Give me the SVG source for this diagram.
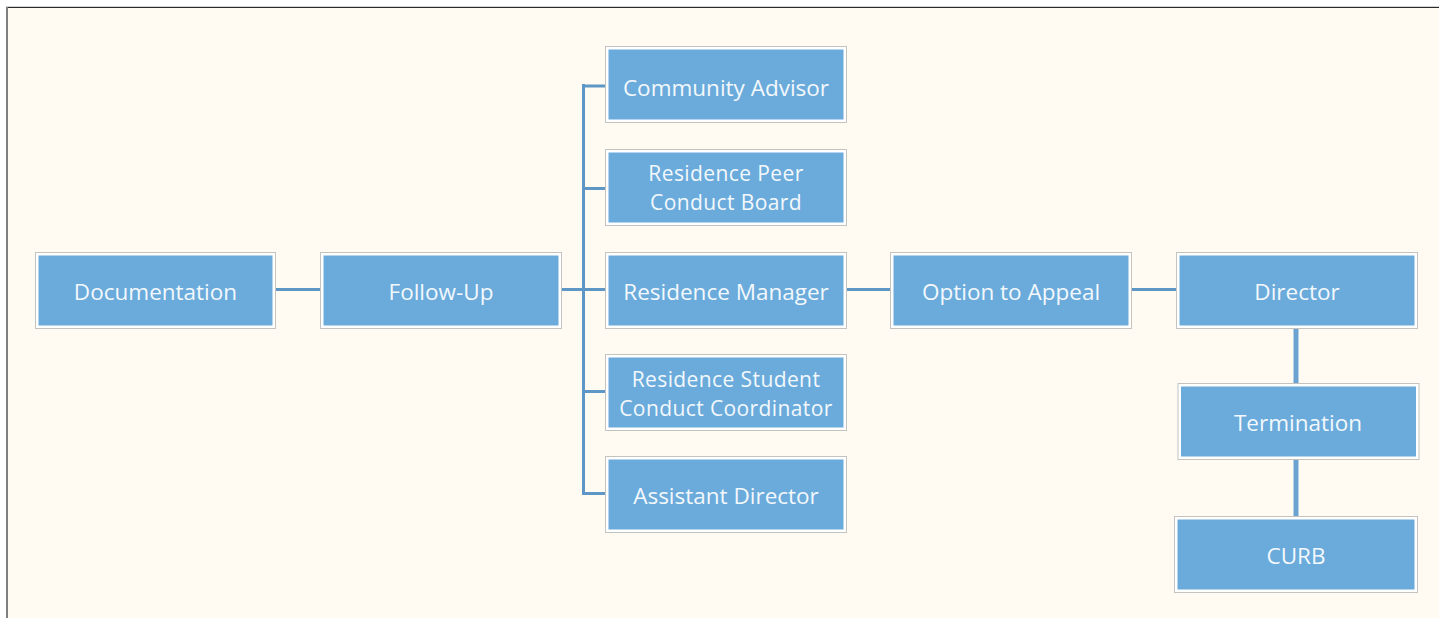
<svg xmlns="http://www.w3.org/2000/svg" width="1439" height="618" viewBox="0 0 1439 618">
<style>
.o{fill:#ffffff;stroke:#c3c3c0;stroke-width:1}
.i{fill:#6aabdb}
.t{font-family:"Open Sans","Noto Sans","Liberation Sans",sans-serif;font-size:22.5px;fill:#f3f8fc;text-anchor:middle}
.t2{font-size:21px;letter-spacing:0.4px}
.c{stroke:#5e96c6;stroke-width:3;fill:none}
.v{stroke:#6aa2d2;stroke-width:5;fill:none}
</style>
<rect x="0" y="0" width="1439" height="618" fill="#ffffff"/>
<rect x="7" y="7" width="1432" height="611" fill="#fffbf3"/>
<line x1="6" y1="6.5" x2="1439" y2="6.5" stroke="#d4d4d4" stroke-width="1"/>
<line x1="6" y1="7.5" x2="1439" y2="7.5" stroke="#2a2a2a" stroke-width="1"/>
<line x1="7" y1="7" x2="7" y2="618" stroke="#7f7f7f" stroke-width="2"/>
<g id="connectors">
<line class="c" x1="276" y1="289.5" x2="320" y2="289.5"/>
<line class="c" x1="562" y1="289.5" x2="605" y2="289.5"/>
<path class="c" d="M583.5 84 V495"/>
<line class="c" x1="582" y1="86" x2="605" y2="86"/>
<line class="c" x1="582" y1="188.5" x2="605" y2="188.5"/>
<line class="c" x1="582" y1="391.5" x2="605" y2="391.5"/>
<line class="c" x1="582" y1="493.5" x2="605" y2="493.5"/>
<line class="c" x1="846" y1="289.5" x2="891" y2="289.5"/>
<line class="c" x1="1132" y1="289.5" x2="1176" y2="289.5"/>
<line class="v" x1="1296" y1="329" x2="1296" y2="383"/>
<line class="v" x1="1296" y1="460" x2="1296" y2="516"/>
</g>
<g id="documentation"><rect class="o" x="35.5" y="252.5" width="240" height="76"/><rect class="i" x="38.5" y="255.5" width="234" height="70"/><text class="t" x="155.5" y="300">Documentation</text></g>
<g id="follow-up"><rect class="o" x="320.5" y="252.5" width="241" height="76"/><rect class="i" x="323.5" y="255.5" width="235" height="70"/><text class="t" x="441" y="300">Follow-Up</text></g>
<g id="community-advisor"><rect class="o" x="605.5" y="46.5" width="241" height="76"/><rect class="i" x="608.5" y="49.5" width="235" height="70"/><text class="t" x="726" y="96">Community Advisor</text></g>
<g id="residence-peer"><rect class="o" x="605.5" y="149.5" width="241" height="76"/><rect class="i" x="608.5" y="152.5" width="235" height="70"/><text class="t t2" x="726" y="181.3">Residence Peer</text><text class="t t2" x="726" y="210">Conduct Board</text></g>
<g id="residence-manager"><rect class="o" x="605.5" y="252.5" width="241" height="76"/><rect class="i" x="608.5" y="255.5" width="235" height="70"/><text class="t" x="726" y="300">Residence Manager</text></g>
<g id="residence-student"><rect class="o" x="605.5" y="354.5" width="241" height="76"/><rect class="i" x="608.5" y="357.5" width="235" height="70"/><text class="t t2" x="726" y="387.2">Residence Student</text><text class="t t2" x="726" y="415.9">Conduct Coordinator</text></g>
<g id="assistant-director"><rect class="o" x="605.5" y="456.5" width="241" height="76"/><rect class="i" x="608.5" y="459.5" width="235" height="70"/><text class="t" x="726" y="504">Assistant Director</text></g>
<g id="option-to-appeal"><rect class="o" x="890.5" y="252.5" width="241" height="76"/><rect class="i" x="893.5" y="255.5" width="235" height="70"/><text class="t" x="1011" y="300">Option to Appeal</text></g>
<g id="director"><rect class="o" x="1176.5" y="252.5" width="241" height="76"/><rect class="i" x="1179.5" y="255.5" width="235" height="70"/><text class="t" x="1297" y="300">Director</text></g>
<g id="termination"><rect class="o" x="1178" y="383.5" width="241" height="76"/><rect class="i" x="1181" y="386.5" width="235" height="70"/><text class="t" x="1298" y="431">Termination</text></g>
<g id="curb"><rect class="o" x="1174.5" y="516.5" width="243" height="76"/><rect class="i" x="1177.5" y="519.5" width="237" height="70"/><text class="t" x="1296" y="564">CURB</text></g>
</svg>
